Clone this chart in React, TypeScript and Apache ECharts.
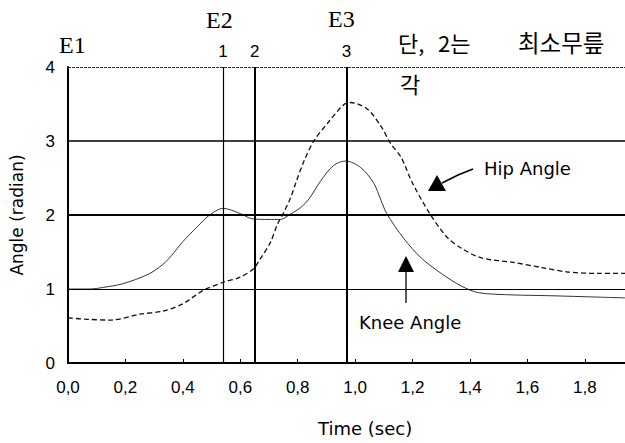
import React, { useEffect, useRef } from "react";
import * as echarts from "echarts";

// Knee angle (solid curve)
const kneeTime = [0.0, 0.08, 0.12, 0.19, 0.28, 0.33, 0.36, 0.4, 0.45, 0.49, 0.54, 0.6, 0.64, 0.7, 0.74, 0.77, 0.81, 0.84, 0.88, 0.925, 0.967, 1.02, 1.065, 1.09, 1.11, 1.17, 1.23, 1.3, 1.37, 1.43, 1.55, 1.67, 1.85, 1.94];
const kneeAngle = [1.0, 1.0, 1.02, 1.07, 1.2, 1.33, 1.45, 1.64, 1.84, 1.99, 2.09, 2.02, 1.95, 1.94, 1.94, 2.0, 2.1, 2.22, 2.46, 2.67, 2.73, 2.64, 2.43, 2.2, 2.02, 1.68, 1.42, 1.21, 1.04, 0.95, 0.92, 0.91, 0.89, 0.88];

// Hip angle (dashed curve)
const hipTime = [0.0, 0.07, 0.15, 0.25, 0.33, 0.4, 0.47, 0.54, 0.6, 0.645, 0.67, 0.705, 0.73, 0.751, 0.776, 0.793, 0.821, 0.856, 0.904, 0.96, 0.984, 1.043, 1.09, 1.123, 1.16, 1.2, 1.26, 1.32, 1.37, 1.44, 1.55, 1.65, 1.74, 1.85, 1.94];
const hipAngle = [0.61, 0.59, 0.58, 0.66, 0.7, 0.8, 0.98, 1.09, 1.16, 1.27, 1.41, 1.63, 1.88, 2.03, 2.24, 2.43, 2.72, 3.0, 3.24, 3.49, 3.52, 3.43, 3.2, 2.97, 2.78, 2.43, 2.02, 1.7, 1.55, 1.42, 1.36, 1.29, 1.23, 1.21, 1.21];

// Reference levels and event markers
const gridLevels = [1, 2, 3, 4];
const eventTimes = [0.539, 0.65, 0.967];
const eventNames = ["1", "2", "3"];
const yTicks = [0, 1, 2, 3, 4];

const zip = (a: number[], b: number[]) => a.map((v, i) => [v, b[i]]);

export default function App() {
  const ref = useRef<HTMLDivElement>(null);
  useEffect(() => {
    if (!ref.current) return;
    const chart = echarts.init(ref.current, null, { renderer: "svg" });
    const sans = "Liberation Sans";
    const wide = "DejaVu Sans";
    const serif = "Liberation Serif";
    const kr = "Noto Sans CJK KR";
    const levelStyles = [
      { color: "#000", width: 1.2, type: "solid" },
      { color: "#000", width: 2.2, type: "solid" },
      { color: "#000", width: 1.6, type: "solid" },
      { color: "#333", width: 1, type: [3, 1] },
    ];
    const eventStyles = [
      { color: "#000", width: 1.2, type: "solid" },
      { color: "#000", width: 2, type: "solid" },
      { color: "#000", width: 2, type: "solid" },
    ];
    const markData: any[] = [
      ...gridLevels.map((v, i) => ({ yAxis: v, lineStyle: levelStyles[i], label: { show: false } })),
      ...eventTimes.map((t, i) => ({
        xAxis: t,
        lineStyle: eventStyles[i],
        label: {
          show: true,
          position: "end",
          distance: 7,
          formatter: eventNames[i],
          fontFamily: sans,
          fontSize: 17,
          color: "#000",
        },
      })),
    ];
    const txt = (left: number, top: number, text: string, font: string, size: number, extra: any = {}) => ({
      type: "text",
      left,
      top,
      style: { text, fontFamily: font, fontSize: size, fill: "#000", ...extra },
    });
    chart.setOption({
      animation: false,
      backgroundColor: "#fff",
      grid: { left: 67, top: 67, right: 0, bottom: 80, containLabel: false },
      xAxis: {
        type: "value",
        min: 0,
        max: 1.94,
        interval: 0.2,
        axisLine: { show: true, lineStyle: { color: "#000", width: 2 } },
        axisTick: { show: true, inside: true, length: 4, lineStyle: { color: "#000", width: 1 } },
        splitLine: { show: false },
        axisLabel: {
          showMaxLabel: false,
          margin: 16,
          fontFamily: sans,
          fontSize: 17,
          color: "#000",
          formatter: (v: number) => {
            const k = Math.round(v * 10);
            if (Math.abs(v * 10 - k) > 1e-6 || k % 2 !== 0) return "";
            return v.toFixed(1).replace(".", ",");
          },
        },
      },
      yAxis: {
        type: "value",
        min: 0,
        max: 4,
        interval: 1,
        name: "Angle (radian)",
        nameLocation: "middle",
        nameGap: 43,
        nameTextStyle: { fontFamily: wide, fontSize: 17, color: "#000" },
        axisLine: { show: true, lineStyle: { color: "#000", width: 2 } },
        axisTick: { show: false },
        splitLine: { show: false },
        axisLabel: {
          margin: 13,
          fontFamily: sans,
          fontSize: 17,
          color: "#000",
          formatter: (v: number) => (yTicks.includes(v) ? String(v) : ""),
        },
      },
      series: [
        {
          type: "line",
          name: "Knee Angle",
          data: zip(kneeTime, kneeAngle),
          showSymbol: false,
          smooth: 0.3,
          lineStyle: { color: "#333", width: 1 },
          z: 3,
          markLine: {
            silent: true,
            symbol: ["none", "none"],
            animation: false,
            data: markData,
          },
        },
        {
          type: "line",
          name: "Hip Angle",
          data: zip(hipTime, hipAngle),
          showSymbol: false,
          smooth: 0.3,
          lineStyle: { color: "#111", width: 1.3, type: [5, 3] },
          z: 4,
        },
      ],
      graphic: [
        txt(59, 33, "E1", serif, 24),
        txt(206, 8, "E2", serif, 24),
        txt(328, 7, "E3", serif, 24),
        txt(398, 31, "단,", kr, 22),
        txt(438, 31, "2는", kr, 22),
        txt(518, 30, "최소무릎", kr, 23.5),
        txt(400, 72, "각", kr, 22),
        txt(484, 159, "Hip Angle", wide, 18),
        txt(359, 313, "Knee Angle", wide, 18),
        txt(318, 419, "Time (sec)", wide, 18),
        {
          type: "polygon",
          shape: { points: [[428, 191], [446, 191], [437, 175]] },
          style: { fill: "#000" },
        },
        {
          type: "polyline",
          shape: { points: [[442, 183], [458, 175], [473, 169]] },
          style: { stroke: "#000", lineWidth: 1.5, fill: null },
        },
        {
          type: "polygon",
          shape: { points: [[398, 272], [414, 272], [406, 256]] },
          style: { fill: "#000" },
        },
        {
          type: "line",
          shape: { x1: 406, y1: 270, x2: 406, y2: 303 },
          style: { stroke: "#000", lineWidth: 1.3 },
        },
      ],
    });
    return () => chart.dispose();
  }, []);
  return (
    <div
      ref={ref}
      style={{ position: "fixed", left: 0, top: 0, width: 625, height: 443, background: "#fff" }}
    />
  );
}
